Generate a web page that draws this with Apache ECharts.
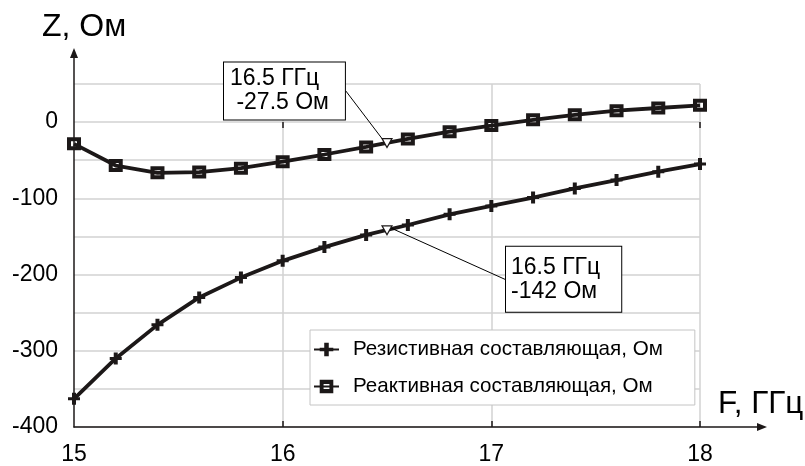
<!DOCTYPE html>
<html><head><meta charset="utf-8">
<script src="https://cdn.jsdelivr.net/npm/echarts@6/dist/echarts.min.js"></script>
<style>html,body{margin:0;padding:0;background:#fff}#c{width:805px;height:466px}</style>
</head><body><div id="c"></div>
<script>
// ---- data ----
const freqGHz   = [15, 15.2, 15.4, 15.6, 15.8, 16, 16.2, 16.4, 16.6, 16.8, 17, 17.2, 17.4, 17.6, 17.8, 18];
const resistive = [-363, -310, -266, -230, -204, -182, -164, -148, -135, -121, -110, -99, -87, -76, -65, -55];
const reactive  = [-28.5, -57, -66.5, -65.5, -60.5, -52, -42.5, -32.5, -22, -12.5, -4.5, 3, 9.5, 15, 18.5, 22];
const markFreq = 16.5;
const markResistive = -142;
const markReactive = -27.5;
const xTickValues = [16, 17, 18];
const yLabelValues = [-400, -300, -200, -100, 0];
const seriesNames = ['Резистивная составляющая, Ом', 'Реактивная составляющая, Ом'];
const xAxisName = 'F, ГГц';
const yAxisName = 'Z, Ом';
const markLabels = ['16.5 ГГц\n -27.5 Ом', '16.5 ГГц\n-142 Ом'];

// ---- styles ----
const FONT = '"Liberation Sans", Arial, sans-serif';
const INK = '#1c1818';
const GRID = '#d2d2d2';
const plusPath = 'path://M4,0H8V12H4Z M0,4.5H12V7.5H0Z';
const ringPath = 'path://M0,0H14V13H0Z M4,4V9H10V4Z';
const labelOffsets = [{dx: -163, dy: -52}, {dx: 119, dy: 49}];

const chart = echarts.init(document.getElementById('c'), null, {renderer: 'canvas'});
const option = {
  animation: false,
  backgroundColor: '#fff',
  textStyle: {fontFamily: FONT},
  title: [
    {text: yAxisName, left: 42, top: 11, padding: 0, textStyle: {fontFamily: FONT, fontSize: 32, fontWeight: 'normal', color: '#000'}},
    {text: xAxisName, left: 718, top: 388, padding: 0, textStyle: {fontFamily: FONT, fontSize: 31.5, fontWeight: 'normal', color: '#000'}}
  ],
  legend: {
    data: seriesNames,
    orient: 'vertical',
    left: 310, top: 330,
    padding: [9, 32, 8, 3],
    itemGap: 16,
    itemWidth: 25, itemHeight: 17,
    backgroundColor: '#fff',
    borderColor: '#c4c4c4', borderWidth: 1,
    textStyle: {fontFamily: FONT, fontSize: 20.6, color: '#000', padding: [0, 0, 0, 9]},
    selectedMode: false
  },
  grid: [
    {left: 74, right: 105, top: 84, bottom: 39},
    {left: 74, right: 43, top: 53, bottom: 39}
  ],
  xAxis: [
    {type: 'value', gridIndex: 0, min: 15, max: 18, interval: 1, position: 'bottom',
     axisLine: {show: false},
     axisTick: {show: true, inside: false, length: 6, customValues: xTickValues, lineStyle: {color: INK, width: 1.5}},
     axisLabel: {fontFamily: FONT, fontSize: 23, color: '#000', margin: 16},
     splitLine: {show: true, lineStyle: {color: GRID, width: 1.5}}},
    {type: 'value', gridIndex: 0, min: 15, max: 18, interval: 1, position: 'bottom', offset: 0,
     axisLine: {show: false},
     axisTick: {show: true, inside: true, length: 6, customValues: xTickValues, lineStyle: {color: INK, width: 1.5}},
     axisLabel: {show: false}, splitLine: {show: false}},
    {type: 'value', gridIndex: 1, min: 0, max: 1, position: 'bottom',
     axisLine: {show: true, onZero: false, symbol: ['none', 'triangle'], symbolSize: [8, 10], lineStyle: {color: INK, width: 1.5}},
     axisTick: {show: false}, axisLabel: {show: false}, splitLine: {show: false}}
  ],
  yAxis: [
    {type: 'value', gridIndex: 0, min: -400, max: 50, interval: 50,
     axisLine: {show: false}, axisTick: {show: false},
     axisLabel: {fontFamily: FONT, fontSize: 23, color: '#000', margin: 16,
       formatter: v => (yLabelValues.indexOf(v) >= 0 ? String(v) : '')},
     splitLine: {show: true, lineStyle: {color: GRID, width: 1.5}}},
    {type: 'value', gridIndex: 1, min: 0, max: 1, position: 'left',
     axisLine: {show: true, onZero: false, symbol: ['none', 'triangle'], symbolSize: [8, 10], lineStyle: {color: INK, width: 1.5}},
     axisTick: {show: false}, axisLabel: {show: false}, splitLine: {show: false}}
  ],
  series: [
    {name: seriesNames[0], type: 'line', xAxisIndex: 0, yAxisIndex: 0,
     data: freqGHz.map((f, i) => [f, resistive[i]]),
     symbol: plusPath, symbolSize: [12, 12], showAllSymbol: true,
     lineStyle: {color: INK, width: 3.8}, itemStyle: {color: INK, borderWidth: 0, opacity: 1},
     emphasis: {disabled: true}, z: 3},
    {name: seriesNames[1], type: 'line', xAxisIndex: 0, yAxisIndex: 0,
     data: freqGHz.map((f, i) => [f, reactive[i]]),
     symbol: ringPath, symbolSize: [14, 13], showAllSymbol: true,
     lineStyle: {color: INK, width: 3.8}, itemStyle: {color: INK, borderWidth: 0, opacity: 1},
     emphasis: {disabled: true}, z: 3},
    {type: 'scatter', xAxisIndex: 0, yAxisIndex: 0, z: 5,
     symbol: 'triangle', symbolRotate: 180, symbolSize: [10, 9],
     itemStyle: {color: '#fff', borderColor: INK, borderWidth: 1.2, opacity: 1},
     emphasis: {disabled: true},
     label: {show: true, position: 'inside', fontFamily: FONT, fontSize: 23, lineHeight: 24, color: '#000',
             backgroundColor: '#fff', borderColor: '#000', borderWidth: 1, align: 'left'},
     labelLine: {show: true, length2: 0, lineStyle: {color: '#000', width: 1, opacity: 1}},
     labelLayout: p => labelOffsets[p.dataIndex],
     data: [
       {value: [markFreq, markReactive],
        label: {formatter: markLabels[0], padding: [5, 16, 4, 6]}},
       {value: [markFreq, markResistive],
        label: {formatter: markLabels[1], padding: [8, 21, 9, 5]}}
     ]}
  ]
};
chart.setOption(option);
</script></body></html>
